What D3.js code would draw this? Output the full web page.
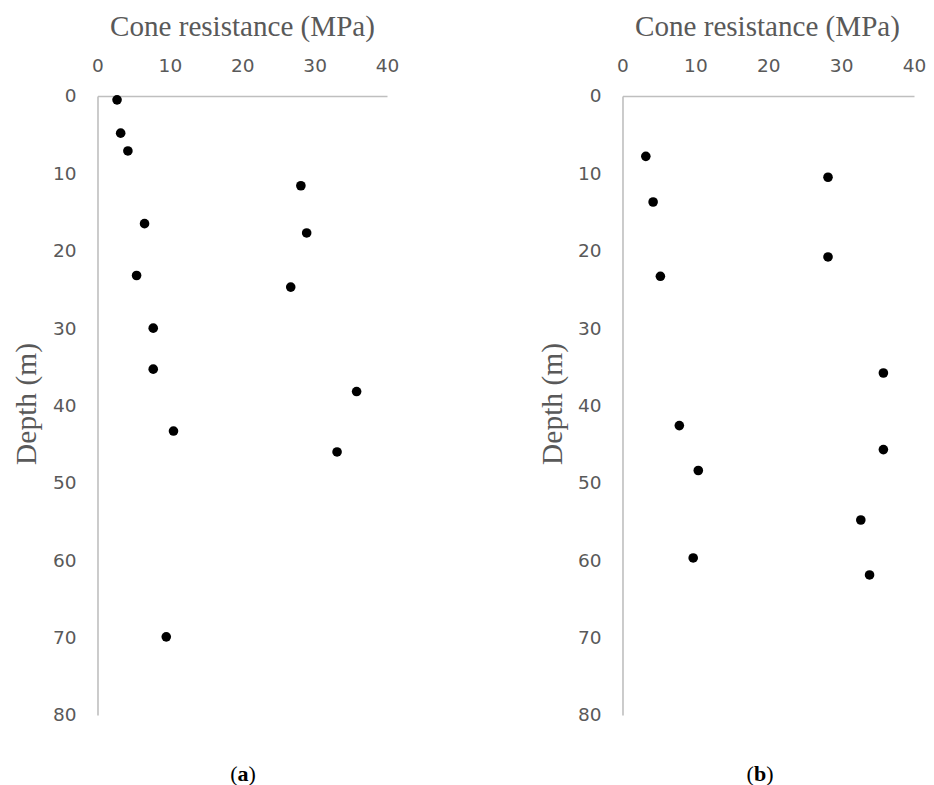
<!DOCTYPE html>
<html>
<head>
<meta charset="utf-8">
<script src="https://cdn.jsdelivr.net/npm/d3@7"></script>
<style>
  html, body { margin: 0; padding: 0; background: #fff; }
  svg { display: block; }
</style>
</head>
<body>
<svg id="chart" width="934" height="785"></svg>
<script>
// Cone penetration profiles: cone resistance (MPa) against depth (m)
const qcA = [2.7, 3.2, 4.2, 28.1, 6.5, 28.9, 5.4, 26.7, 7.7, 7.7, 35.8, 10.5, 33.1, 9.5];
const depthA = [0.5, 4.8, 7.1, 11.6, 16.5, 17.7, 23.2, 24.7, 30.0, 35.3, 38.2, 43.3, 46.0, 69.9];

const qcB = [3.2, 4.2, 28.2, 28.2, 5.2, 35.8, 7.8, 35.8, 10.4, 32.7, 9.7, 33.9];
const depthB = [7.8, 13.7, 10.5, 20.8, 23.3, 35.8, 42.6, 45.7, 48.4, 54.8, 59.7, 61.9];

const xTicks = [0, 10, 20, 30, 40];
const yTicks = [0, 10, 20, 30, 40, 50, 60, 70, 80];
const xTitle = "Cone resistance (MPa)";
const yTitle = "Depth (m)";
const captions = ["a", "b"];

const svg = d3.select("#chart");
const grey = "#595959";
const axisGrey = "#bfbfbf";
const serif = "'Liberation Serif', 'DejaVu Serif', serif";
const sans = "'DejaVu Sans', 'Open Sans', sans-serif";

// fit a text element to a target width by adjusting font size
function fitWidth(sel, target) {
  const w = sel.node().getComputedTextLength();
  const fs = parseFloat(sel.attr("font-size"));
  sel.attr("font-size", fs * target / w);
}

const panels = [
  { qc: qcA, depth: depthA, x0: 97.5, x1: 387, titleX: 242.5, yTitleX: 28, capX: 243, cap: captions[0] },
  { qc: qcB, depth: depthB, x0: 622.5, x1: 914, titleX: 767.5, yTitleX: 554, capX: 760, cap: captions[1] }
];
const plotTop = 96, plotBottom = 715;

panels.forEach(p => {
  const x = d3.scaleLinear().domain([0, 40]).range([p.x0, p.x1]);
  const y = d3.scaleLinear().domain([0, 80]).range([plotTop, plotBottom]);
  const g = svg.append("g");

  // x axis along the top
  const xa = g.append("g")
    .attr("transform", `translate(0,${plotTop})`)
    .call(d3.axisTop(x).tickValues(xTicks).tickSize(0).tickSizeOuter(0).tickPadding(24));
  // y axis on the left
  const ya = g.append("g")
    .attr("transform", `translate(${p.x0},0)`)
    .call(d3.axisLeft(y).tickValues(yTicks).tickSize(0).tickSizeOuter(0).tickPadding(21));

  [xa, ya].forEach(a => {
    a.select(".domain").attr("stroke", axisGrey).attr("stroke-width", 1.6);
    a.selectAll("text").attr("fill", grey).attr("font-family", sans).attr("font-size", 18.5);
  });

  // axis titles
  const tx = g.append("text")
    .attr("x", p.titleX).attr("y", 36)
    .attr("text-anchor", "middle")
    .attr("font-family", serif).attr("font-size", 20)
    .attr("fill", grey).text(xTitle);
  fitWidth(tx, 265);

  const ty = g.append("text")
    .attr("transform", `translate(${p.yTitleX + 8},404) rotate(-90)`)
    .attr("text-anchor", "middle")
    .attr("font-family", serif).attr("font-size", 20)
    .attr("fill", grey).text(yTitle);
  fitWidth(ty, 122);

  // data points
  g.append("g").selectAll("circle")
    .data(d3.zip(p.qc, p.depth))
    .join("circle")
    .attr("cx", d => x(d[0]))
    .attr("cy", d => y(d[1]))
    .attr("r", 4.8)
    .attr("fill", "#000");

  // panel caption
  const cap = g.append("text")
    .attr("x", p.capX).attr("y", 781)
    .attr("text-anchor", "middle")
    .attr("font-family", serif).attr("font-size", 22)
    .attr("fill", "#000");
  cap.append("tspan").text("(");
  cap.append("tspan").attr("font-weight", "bold").text(p.cap);
  cap.append("tspan").text(")");
});
</script>
</body>
</html>
